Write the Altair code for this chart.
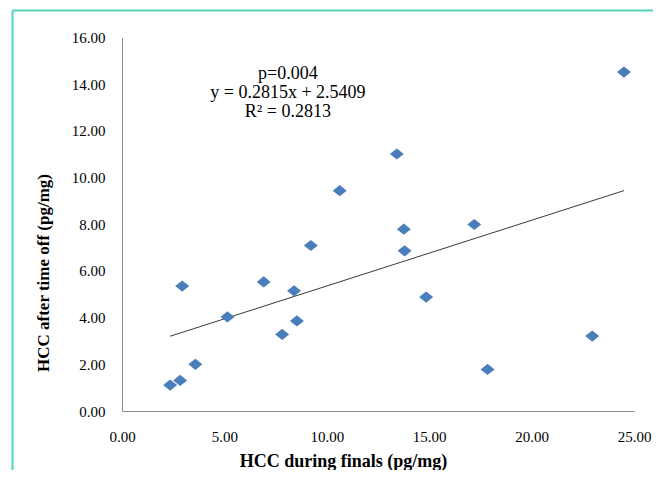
import altair as alt
import pandas as pd

# Scatter values
hcc_finals = [24.51, 13.42, 10.63, 17.20, 13.76, 13.80, 9.22, 6.92, 2.94, 8.40,
              14.85, 5.15, 8.54, 7.82, 22.96, 3.58, 17.85, 2.84, 2.35]
hcc_after = [14.52, 11.01, 9.44, 7.99, 7.79, 6.86, 7.09, 5.53, 5.35, 5.15,
             4.88, 4.03, 3.86, 3.28, 3.21, 2.00, 1.78, 1.31, 1.11]

# Trend line as shown on the chart
slope = 0.2815
intercept = 2.5409

# Annotation text and its anchor (data units)
ann_text = ["p=0.004", "y = 0.2815x + 2.5409", "R\u00b2 = 0.2813"]
ann_x = [8.1, 8.1, 8.1]
ann_y = [14.22, 13.39, 12.58]

x_ticks = [0, 5, 10, 15, 20, 25]
y_ticks = [0, 2, 4, 6, 8, 10, 12, 14, 16]

FONT = "Liberation Serif"

pts = pd.DataFrame({"x": hcc_finals, "y": hcc_after})
trend = pd.DataFrame({"x": [min(hcc_finals), max(hcc_finals)]})
ann = pd.DataFrame({"t": ann_text, "x": ann_x, "y": ann_y})

xscale = alt.Scale(domain=[0, 25], nice=False, zero=False)
yscale = alt.Scale(domain=[0, 16], nice=False, zero=False)

xaxis = alt.Axis(values=x_ticks, format=".2f", grid=False, ticks=False, tickSize=0,
                 labelPadding=18, labelFont=FONT, labelFontSize=15, labelColor="#000",
                 domainColor="#8c8c8c", title="HCC during finals (pg/mg)",
                 titleFont=FONT, titleFontSize=18, titleFontWeight="bold", titleColor="#000",
                 titleX=221, titleY=55, titleBaseline="alphabetic", titleAlign="center",
                 labelFlush=False)
yaxis = alt.Axis(values=y_ticks, format=".2f", grid=False, ticks=False, tickSize=0,
                 labelPadding=17, labelFont=FONT, labelFontSize=15, labelColor="#000",
                 domainColor="#8c8c8c", title="HCC after time off (pg/mg)",
                 titleFont=FONT, titleFontSize=17, titleFontWeight="bold", titleColor="#000",
                 titleX=-74, titleY=235, titleAngle=-90, titleBaseline="alphabetic",
                 titleAlign="center")

one = pd.DataFrame({"k": [0]})
BORDER = "#4fd3bd"
border_top = alt.Chart(one).mark_rule(color=BORDER, strokeWidth=2).encode(
    x=alt.value(-109.5), x2=alt.value(531), y=alt.value(-27)
)
border_left = alt.Chart(one).mark_rule(color=BORDER, strokeWidth=2).encode(
    x=alt.value(-109.5), y=alt.value(-27), y2=alt.value(432.5)
)

line = alt.Chart(trend).transform_calculate(
    y=f"{slope} * datum.x + {intercept}"
).mark_line(color="#3a3a3a", strokeWidth=1).encode(
    x=alt.X("x:Q", scale=xscale, axis=xaxis),
    y=alt.Y("y:Q", scale=yscale, axis=yaxis),
)

points = alt.Chart(pts).mark_point(
    shape="M-1,0L0,-0.8L1,0L0,0.8Z", filled=True, size=196, color="#4a7ebb", opacity=1
).encode(
    x=alt.X("x:Q", scale=xscale, axis=xaxis),
    y=alt.Y("y:Q", scale=yscale, axis=yaxis),
)

text = alt.Chart(ann).mark_text(
    font=FONT, fontSize=18, color="#000", align="center", baseline="alphabetic"
).encode(
    x=alt.X("x:Q", scale=xscale, axis=xaxis),
    y=alt.Y("y:Q", scale=yscale, axis=yaxis),
    text="t:N",
)

chart = alt.layer(border_top, border_left, line, points, text).properties(
    width=512, height=373.5,
    autosize=alt.AutoSizeParams(type="none"),
    padding={"left": 114, "top": 29.5, "right": 19, "bottom": 59},
    background="white",
).configure_view(stroke=None)

chart.save("out.html", embed_options={"renderer": "svg", "actions": False})
